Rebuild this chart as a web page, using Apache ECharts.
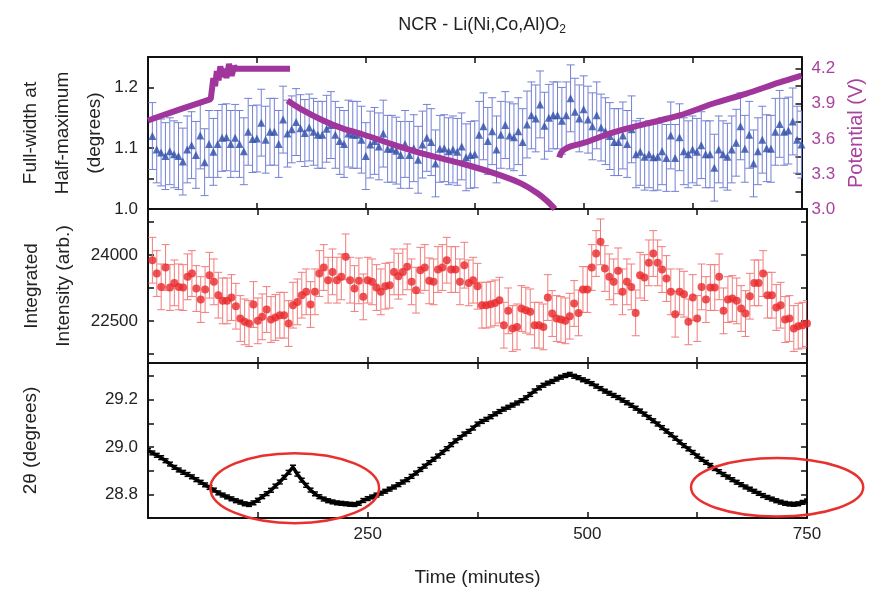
<!DOCTYPE html>
<html>
<head>
<meta charset="utf-8">
<script src="https://cdn.jsdelivr.net/npm/echarts@6/dist/echarts.min.js"></script>
<style>html,body{margin:0;padding:0;background:#fff}#c{width:874px;height:590px}</style>
</head>
<body>
<div id="c"></div>
<script>
// ---- data (time in minutes) ----
const fwhmValues = [
1.120,1.098,1.093,1.087,1.095,1.090,1.087,1.078,1.098,1.105,
1.089,1.121,1.077,1.107,1.094,1.107,1.117,1.118,1.107,1.117,
1.107,1.095,1.127,1.115,1.116,1.142,1.114,1.127,1.127,1.107,
1.147,1.124,1.131,1.143,1.133,1.125,1.134,1.127,1.122,1.122,
1.132,1.138,1.122,1.112,1.107,1.124,1.122,1.122,1.114,1.087,
1.106,1.112,1.103,1.124,1.099,1.099,1.096,1.089,1.107,1.089,
1.100,1.081,1.106,1.117,1.110,1.075,1.099,1.100,1.095,1.098,
1.094,1.103,1.085,1.089,1.090,1.122,1.136,1.112,1.128,1.098,
1.122,1.138,1.121,1.118,1.128,1.110,1.139,1.154,1.149,1.172,
1.137,1.150,1.154,1.154,1.145,1.154,1.182,1.160,1.149,1.164,
1.147,1.136,1.154,1.134,1.128,1.120,1.110,1.110,1.121,1.107,
1.131,1.090,1.094,1.086,1.090,1.085,1.086,1.095,1.084,1.121,
1.084,1.118,1.095,1.090,1.098,1.094,1.105,1.090,1.090,1.068,
1.098,1.090,1.086,1.098,1.109,1.136,1.099,1.122,1.075,1.095,
1.114,1.100,1.099,1.127,1.140,1.127,1.129,1.144,1.114,1.106];
const fwhmErr = 0.055;

const intensityValues = [
23886,23583,23280,23720,23265,23371,23280,23265,23508,23583,
23242,22992,23220,23545,23394,23091,22962,22962,23038,22841,
22561,22485,22447,22879,22508,22599,22765,22538,22584,22636,
22636,22447,22864,22939,23091,23167,22879,23167,23583,23720,
23432,23621,23432,23508,23962,23432,23242,23417,23053,23432,
23394,23265,23167,23295,23318,23621,23523,23621,23735,23394,
23205,23659,23720,23417,23394,23674,23720,23886,23674,23674,
23394,23773,23371,23432,
23295,22864,22864,22886,22916,22977,22409,22735,22333,22371,
22788,22750,22712,22409,22409,22371,23038,22674,22561,22538,
22508,22614,22902,22689,23220,23220,23720,24038,24303,23697,
23508,23394,23644,23167,23394,23280,22689,23545,23492,23826,
24038,23826,23674,23470,23167,22659,23167,23114,22485,23038,
22561,23280,22992,23265,23265,23508,22735,22992,23015,22962,
22788,22674,23068,23371,23371,23583,23091,23091,22811,22864,
22538,22561,22333,22386,22409,22447];
const intensityErr = 520;

// 2-theta, from t = 0 every 5 min
const twoThetaValues = [
28.985,28.975,28.965,28.955,28.942,28.928,28.914,28.903,28.893,28.884,
28.874,28.862,28.851,28.840,28.829,28.818,28.806,28.797,28.789,28.781,
28.773,28.767,28.760,28.757,28.764,28.775,28.790,28.803,28.817,28.835,
28.852,28.872,28.893,28.915,28.885,28.860,28.838,28.818,28.802,28.790,
28.780,28.773,28.768,28.764,28.762,28.760,28.758,28.757,28.762,28.774,
28.782,28.789,28.797,28.805,28.813,28.822,28.831,28.841,28.852,28.862,
28.876,28.890,28.905,28.919,28.934,28.948,28.962,28.977,28.993,29.010,
29.026,29.040,29.055,29.066,29.080,29.097,29.108,29.117,29.128,29.140,
29.150,29.160,29.168,29.177,29.186,29.196,29.208,29.222,29.237,29.250,
29.261,29.270,29.277,29.287,29.295,29.302,29.307,29.299,29.293,29.284,
29.277,29.268,29.257,29.247,29.236,29.227,29.218,29.209,29.198,29.187,
29.176,29.164,29.152,29.139,29.125,29.111,29.097,29.082,29.067,29.052,
29.037,29.021,29.006,28.992,28.977,28.962,28.948,28.935,28.922,28.909,
28.896,28.884,28.873,28.862,28.851,28.841,28.831,28.822,28.813,28.804,
28.795,28.787,28.780,28.773,28.767,28.762,28.759,28.758,28.760,28.766,
28.772];
const twoThetaErr = 0.008;

// potential (V) segments: [time, V]
const potentialCharge1 = [[0,3.757],[20,3.81],[40,3.86],[60,3.91],[72,3.94],[73,4.0],[75,4.12],[77,4.05],[79,4.18],[81,4.10],[83,4.22],[86,4.13],[88,4.20],[90,4.12],[93,4.24],[96,4.14],[99,4.22],[101,4.20],[130,4.20],[163,4.20]];
const potentialDischarge = [[160,3.928],[175,3.857],[201,3.757],[224,3.687],[248,3.635],[284,3.545],[322,3.46],[360,3.389],[398,3.304],[428,3.219],[447,3.134],[459,3.062],[467,3.0]];
const potentialCharge2 = [[472,3.44],[474,3.48],[478,3.51],[485,3.535],[500,3.565],[534,3.655],[572,3.73],[610,3.80],[648,3.90],[686,3.985],[724,4.08],[750,4.14]];

// annotation ellipses (data coords: centre time, centre 2θ, half-width min, half-height deg)
const ellipses = [[167, 28.826, 96, 0.148], [716, 28.830, 98, 0.124]];

const xTicks = [0,125,250,375,500,625,750];
const xLabels = [250,500,750];

// ---- build ----
const FONT = 'Liberation Sans, Arial, sans-serif';
const fwhmData = fwhmValues.map((v,i)=>[5*(i+1), v]);
const fwhmErrData = fwhmValues.map((v,i)=>[5*(i+1), v-fwhmErr, v+fwhmErr]);
const intData = intensityValues.map((v,i)=>[5*(i+1), v]);
const intErrData = intensityValues.map((v,i)=>[5*(i+1), v-intensityErr, v+intensityErr]);
const ttData = twoThetaValues.map((v,i)=>[5*i, v]);
const ttErrData = twoThetaValues.map((v,i)=>[5*i, v-twoThetaErr, v+twoThetaErr]);

function errRender(color, cap, lw){
  return function(params, api){
    const x = api.value(0), lo = api.value(1), hi = api.value(2);
    const a = api.coord([x, lo]), b = api.coord([x, hi]);
    const st = {stroke: color, lineWidth: lw};
    return {type:'group', children:[
      {type:'line', shape:{x1:a[0],y1:a[1],x2:b[0],y2:b[1]}, style:st},
      {type:'line', shape:{x1:a[0]-cap,y1:a[1],x2:a[0]+cap,y2:a[1]}, style:st},
      {type:'line', shape:{x1:b[0]-cap,y1:b[1],x2:b[0]+cap,y2:b[1]}, style:st}
    ]};
  };
}

const axisLine = {show:true, onZero:false, lineStyle:{color:'#111', width:2}};
const tickStyle = {inside:true, length:6, lineStyle:{color:'#111', width:1.5}};
const grids = [
  {left:148, right:67, top:57, height:152},
  {left:148, right:67, top:209, height:154},
  {left:148, right:67, top:363, height:155}
];
function xAx(grid, pos, labels){
  return {type:'value', gridIndex:grid, position:pos, min:0, max:750,
    axisLine, splitLine:{show:false},
    axisTick:Object.assign({customValues:xTicks}, tickStyle),
    axisLabel: labels ? {customValues:xLabels, fontSize:17, color:'#222', fontFamily:FONT, margin:8} : {show:false},
    name: labels ? 'Time (minutes)' : '', nameLocation:'middle', nameGap:50,
    nameTextStyle:{fontSize:19, color:'#222', fontFamily:FONT}};
}

const option = {
  animation:false,
  backgroundColor:'#fff',
  title:{left:477, top:9, textAlign:'center',
    text:'{a|NCR - Li(Ni,Co,Al)O}{b|2}',
    textStyle:{rich:{a:{fontSize:18, fontWeight:'normal', color:'#222', fontFamily:FONT}, b:{fontSize:12, fontWeight:'normal', color:'#222', fontFamily:FONT, padding:[10,0,0,0]}}}},
  grid: grids,
  xAxis:[ xAx(0,'bottom',false), xAx(0,'top',false), xAx(1,'bottom',false), xAx(1,'top',false), xAx(2,'bottom',true), xAx(2,'top',false) ],
  yAxis:[
    {type:'value', gridIndex:0, position:'left', min:1.0, max:1.25, interval:0.05, axisLine, splitLine:{show:false}, axisTick:tickStyle,
      axisLabel:{fontSize:17, color:'#222', fontFamily:FONT, margin:10, formatter:v=>{const t=Math.round(v*100); return (t%10===0 && t<=120)? (t/100).toFixed(1):'';}},
      name:'Full-width at\nHalf-maximum\n(degrees)', nameLocation:'middle', nameGap:37, nameMoveOverlap:false,
      nameTextStyle:{fontSize:19, color:'#222', fontFamily:FONT, lineHeight:32}},
    {type:'value', gridIndex:0, position:'right', min:3.0, max:4.3, interval:0.15, axisLine, splitLine:{show:false}, axisTick:tickStyle,
      axisLabel:{fontSize:17, color:'#a8429e', fontFamily:FONT, margin:10, formatter:v=>{const t=Math.round(v*100); return (t%30===0)? (t/100).toFixed(1):'';}},
      name:'Potential (V)', nameLocation:'middle', nameGap:40,
      nameTextStyle:{fontSize:20, color:'#a8429e', fontFamily:FONT}},
    {type:'value', gridIndex:1, position:'left', min:21550, max:25050, axisLine, splitLine:{show:false},
      axisTick:Object.assign({customValues:[21750,22500,23250,24000,24750]}, tickStyle),
      axisLabel:{customValues:[22500,24000], fontSize:17, color:'#222', fontFamily:FONT, margin:10, formatter:v=>String(v)},
      name:'Integrated\nIntensity (arb.)', nameLocation:'middle', nameGap:60,
      nameTextStyle:{fontSize:19, color:'#222', fontFamily:FONT, lineHeight:32}},
    {type:'value', gridIndex:1, position:'right', min:21550, max:25050, axisLine, splitLine:{show:false},
      axisTick:Object.assign({customValues:[21750,22500,23250,24000,24750]}, tickStyle), axisLabel:{show:false}},
    {type:'value', gridIndex:2, position:'left', min:28.7, max:29.355, axisLine, splitLine:{show:false},
      axisTick:Object.assign({customValues:[28.7,28.8,28.9,29.0,29.1,29.2,29.3]}, tickStyle),
      axisLabel:{customValues:[28.8,29.0,29.2], fontSize:17, color:'#222', fontFamily:FONT, margin:10, formatter:v=>v.toFixed(1)},
      name:'2θ (degrees)', nameLocation:'middle', nameGap:108,
      nameTextStyle:{fontSize:19, color:'#222', fontFamily:FONT}},
    {type:'value', gridIndex:2, position:'right', min:28.7, max:29.355, axisLine, splitLine:{show:false},
      axisTick:Object.assign({customValues:[28.7,28.8,28.9,29.0,29.1,29.2,29.3]}, tickStyle), axisLabel:{show:false}}
  ],
  series:[
    {type:'custom', xAxisIndex:0, yAxisIndex:0, renderItem:errRender('#7480d4',4,1), data:fwhmErrData, clip:true, z:2, encode:{x:0,y:[1,2]}},
    {type:'scatter', xAxisIndex:0, yAxisIndex:0, data:fwhmData, symbol:'triangle', symbolSize:8, itemStyle:{color:'#2d4ca8'}, z:3},
    {type:'line', xAxisIndex:0, yAxisIndex:1, data:potentialCharge1, showSymbol:false, lineStyle:{color:'#a0359b', width:6}, z:5, clip:true},
    {type:'line', xAxisIndex:0, yAxisIndex:1, data:potentialDischarge, smooth:0.3, showSymbol:false, lineStyle:{color:'#a0359b', width:6}, z:5, clip:true},
    {type:'line', xAxisIndex:0, yAxisIndex:1, data:potentialCharge2, smooth:0.3, showSymbol:false, lineStyle:{color:'#a0359b', width:6}, z:5, clip:true},
    {type:'custom', xAxisIndex:2, yAxisIndex:2, renderItem:errRender('#f27c7c',4,1), data:intErrData, clip:true, z:2, encode:{x:0,y:[1,2]}},
    {type:'scatter', xAxisIndex:2, yAxisIndex:2, data:intData, symbol:'circle', symbolSize:8, itemStyle:{color:'#e8282a'}, z:3},
    {type:'custom', xAxisIndex:4, yAxisIndex:4, renderItem:errRender('#000',3,1.5), data:ttErrData, clip:true, z:2, encode:{x:0,y:[1,2]}},
    {type:'line', xAxisIndex:4, yAxisIndex:4, data:ttData, showSymbol:false, lineStyle:{color:'#000', width:3.5}, z:3}
  ]
};

const chart = echarts.init(document.getElementById('c'), null, {renderer:'canvas'});
chart.setOption(option);
const g = ellipses.map(e=>{
  const c = chart.convertToPixel({xAxisIndex:4, yAxisIndex:4}, [e[0], e[1]]);
  const r = chart.convertToPixel({xAxisIndex:4, yAxisIndex:4}, [e[0]+e[2], e[1]+e[3]]);
  return {type:'ellipse', shape:{cx:c[0], cy:c[1], rx:Math.abs(r[0]-c[0]), ry:Math.abs(c[1]-r[1])},
    style:{fill:'none', stroke:'#e8312f', lineWidth:2.5}, z:100};
});
chart.setOption({graphic:g});
</script>
</body>
</html>
